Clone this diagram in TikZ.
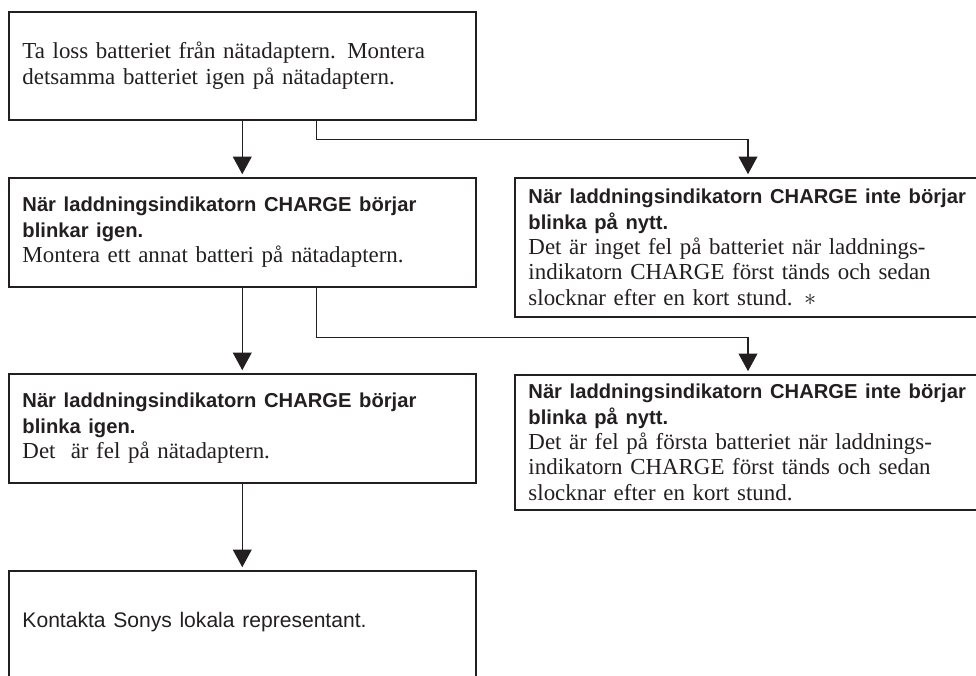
\documentclass[tikz,border=0pt]{standalone}
\usepackage{fontspec}
\setmainfont{Liberation Serif}
\setsansfont{Liberation Sans}
\usepackage{tikz}
\usetikzlibrary{positioning,arrows.meta}
\definecolor{ink}{HTML}{231F20}
\tikzset{>={Triangle[length=4.4mm,width=4.7mm]}}
\newcommand*{\rubrik}[1]{{\sffamily\bfseries\fontsize{14.35}{18.1}\selectfont #1}}

\begin{document}
\begin{tikzpicture}[x=0.25mm,y=-0.25mm,
  box/.style={draw=ink,line width=0.43mm,anchor=north west,align=left,
    inner xsep=3.4mm,inner ysep=0pt,text=ink,
    font=\fontsize{16.3}{18.1}\selectfont},
  flow/.style={draw=ink,line width=0.33mm,->,shorten >=0.7mm}]
\useasboundingbox (0,0) rectangle (976,675);
\clip (0,0) rectangle (976,675);
% Left column
\node[box,text width=109.9mm,minimum height=27mm] (ta) at (8,11)
  {Ta loss batteriet från nätadaptern. Montera\\detsamma batteriet igen på nätadaptern.};
\node[box,text width=109.9mm,minimum height=27.25mm] (igen1) at (8,177)
  {\rubrik{När laddningsindikatorn CHARGE börjar}\\\rubrik{blinkar igen.}\\Montera ett annat batteri på nätadaptern.};
\node[box,text width=109.9mm,minimum height=27.25mm] (igen2) at (8,373)
  {\rubrik{När laddningsindikatorn CHARGE börjar}\\\rubrik{blinka igen.}\\Det\ \ är fel på nätadaptern.};
\node[box,text width=109.9mm,text height=14.25mm,text depth=20.75mm] (sony) at (8,570)
  {\sffamily\fontsize{15}{18.1}\selectfont Kontakta Sonys lokala representant.};
% Right column
\node[box,text width=113.5mm,minimum height=34.75mm] (inte1) at (514,177)
  {\rubrik{När laddningsindikatorn CHARGE inte börjar}\\\rubrik{blinka på nytt.}\\Det är inget fel på batteriet när laddnings-\\indikatorn CHARGE först tänds och sedan\\slocknar efter en kort stund. $\ast$};
\node[box,text width=113.5mm,minimum height=33.75mm] (inte2) at (514,374)
  {\rubrik{När laddningsindikatorn CHARGE inte börjar}\\\rubrik{blinka på nytt.}\\Det är fel på första batteriet när laddnings-\\indikatorn CHARGE först tänds och sedan\\slocknar efter en kort stund.};
% Arrows down and branches to the right
\draw[flow] (ta.south) -- (igen1.north);
\draw[flow] ([xshift=18.6mm]ta.south) -- ++(0,19) -| ([xshift=58.5mm]inte1.north west);
\draw[flow] (igen1.south) -- (igen2.north);
\draw[flow] ([xshift=18.6mm]igen1.south) -- ++(0,50) -| ([xshift=58.5mm]inte2.north west);
\draw[flow] (igen2.south) -- (sony.north);
\end{tikzpicture}
\end{document}
